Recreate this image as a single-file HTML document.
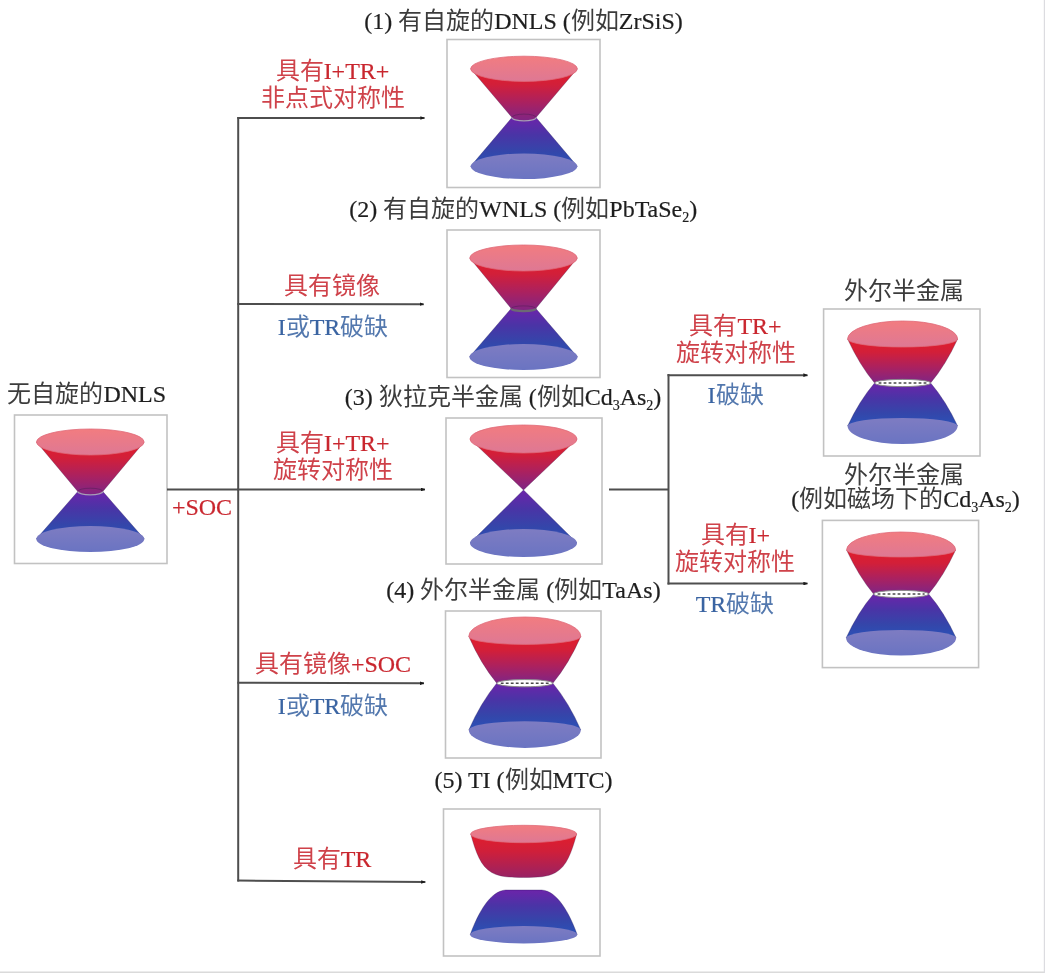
<!DOCTYPE html>
<html lang="zh-CN">
<head>
<meta charset="utf-8">
<title>Nodal line semimetals diagram</title>
<style>
html,body{margin:0;padding:0;background:#fff;}
body{width:1045px;height:973px;overflow:hidden;font-family:"Liberation Serif",serif;}
svg{display:block;filter:blur(0.4px);}
</style>
</head>
<body>
<svg width="1045" height="973" viewBox="0 0 1045 973" font-family="Liberation Serif, serif" font-size="24">
<defs>
 <linearGradient id="gLid" x1="0" y1="0" x2="0" y2="1">
  <stop offset="0" stop-color="#f27c80"/>
  <stop offset="1" stop-color="#de7894"/>
 </linearGradient>
 <linearGradient id="gTop" x1="0" y1="0" x2="0" y2="1">
  <stop offset="0" stop-color="#e21d2b"/>
  <stop offset="0.3" stop-color="#d21f39"/>
  <stop offset="0.65" stop-color="#aa2160"/>
  <stop offset="1" stop-color="#7f2585"/>
 </linearGradient>
 <linearGradient id="gTopTI" x1="0" y1="0" x2="0" y2="1">
  <stop offset="0" stop-color="#e21d2b"/>
  <stop offset="0.4" stop-color="#cf1f3a"/>
  <stop offset="1" stop-color="#982264"/>
 </linearGradient>
 <linearGradient id="gBot" x1="0" y1="0" x2="0" y2="1">
  <stop offset="0" stop-color="#6c24aa"/>
  <stop offset="0.35" stop-color="#4a34a6"/>
  <stop offset="0.7" stop-color="#3446aa"/>
  <stop offset="1" stop-color="#2a52b8"/>
 </linearGradient>
 <linearGradient id="gBase" x1="0" y1="0" x2="0" y2="1">
  <stop offset="0" stop-color="#7e7cc2"/>
  <stop offset="1" stop-color="#6a74c2"/>
 </linearGradient>
 <marker id="ah" viewBox="0 0 10 8" refX="9" refY="4" markerWidth="2.3" markerHeight="1.84" markerUnits="strokeWidth" orient="auto">
  <path d="M0,0 L10,4 L0,8 z" fill="#1a1a1a"/>
 </marker>
</defs>
<rect x="14.5" y="415" width="152.5" height="148.5" fill="#fff" stroke="#c2c2c2" stroke-width="1.6"/>
<path d="M77.8,491.5 L36.3,539 L144.3,539 L102.8,491.5 Z" fill="url(#gBot)" stroke="#1a1050" stroke-opacity="0.35" stroke-width="0.9"/>
<path d="M36.5,442 L77.8,491.5 A12.5,3.3 0 0 0 102.8,491.5 L144.1,442 Z" fill="url(#gTop)" stroke="#3a0f40" stroke-opacity="0.35" stroke-width="0.9"/>
<ellipse cx="90.3" cy="442" rx="53.8" ry="13" fill="url(#gLid)" stroke="#e06a78" stroke-width="0.8"/>
<ellipse cx="90.3" cy="539" rx="54" ry="13" fill="url(#gBase)"/>
<path d="M77.8,491.5 A12.5,3.3 0 0 1 102.8,491.5" fill="none" stroke="#4a1c50" stroke-opacity="0.45" stroke-width="1"/>
<path d="M77.8,491.5 A12.5,3.3 0 0 0 102.8,491.5" fill="none" stroke="#a89fb8" stroke-width="1.3"/>
<rect x="447" y="39.5" width="153" height="148.0" fill="#fff" stroke="#c2c2c2" stroke-width="1.6"/>
<path d="M512.0,117.5 L470.7,166.3 L577.3,166.3 L536.0,117.5 Z" fill="url(#gBot)" stroke="#1a1050" stroke-opacity="0.35" stroke-width="0.9"/>
<path d="M470.7,68.8 L512.0,117.5 A12.0,3.4 0 0 0 536.0,117.5 L577.3,68.8 Z" fill="url(#gTop)" stroke="#3a0f40" stroke-opacity="0.35" stroke-width="0.9"/>
<ellipse cx="524" cy="68.8" rx="53.3" ry="12.6" fill="url(#gLid)" stroke="#e06a78" stroke-width="0.8"/>
<ellipse cx="524" cy="166.3" rx="53.3" ry="12.8" fill="url(#gBase)"/>
<path d="M512.0,117.5 A12.0,3.4 0 0 1 536.0,117.5" fill="none" stroke="#4a1c50" stroke-opacity="0.45" stroke-width="1"/>
<path d="M512.0,117.5 A12.0,3.4 0 0 0 536.0,117.5" fill="none" stroke="#a89fb8" stroke-width="1.3"/>
<rect x="447" y="230" width="153" height="147.5" fill="#fff" stroke="#c2c2c2" stroke-width="1.6"/>
<path d="M511.2,308.5 L469.5,357 L577.5,357 L535.8,308.5 Z" fill="url(#gBot)" stroke="#1a1050" stroke-opacity="0.35" stroke-width="0.9"/>
<path d="M469.8,258 L511.2,308.5 A12.3,2.6 0 0 0 535.8,308.5 L577.2,258 Z" fill="url(#gTop)" stroke="#3a0f40" stroke-opacity="0.35" stroke-width="0.9"/>
<ellipse cx="523.5" cy="258" rx="53.7" ry="13" fill="url(#gLid)" stroke="#e06a78" stroke-width="0.8"/>
<ellipse cx="523.5" cy="357" rx="54" ry="13" fill="url(#gBase)"/>
<path d="M511.2,308.5 A12.3,2.6 0 0 1 535.8,308.5" fill="none" stroke="#4a1c50" stroke-opacity="0.45" stroke-width="1"/>
<path d="M511.2,308.5 A12.3,2.6 0 0 0 535.8,308.5" fill="none" stroke="#6c6a74" stroke-width="2.3"/>
<rect x="446" y="418" width="156" height="146" fill="#fff" stroke="#c2c2c2" stroke-width="1.6"/>
<path d="M470.0,439 L523.5,490 L577.0,439 Z" fill="url(#gTop)" stroke="#3a0f40" stroke-opacity="0.35" stroke-width="0.9"/>
<path d="M523.5,490 L470.0,543 L577.0,543 Z" fill="url(#gBot)" stroke="#1a1050" stroke-opacity="0.35" stroke-width="0.9"/>
<ellipse cx="523.5" cy="439" rx="53.5" ry="14" fill="url(#gLid)" stroke="#e06a78" stroke-width="0.8"/>
<ellipse cx="523.5" cy="543" rx="53.5" ry="14" fill="url(#gBase)"/>
<rect x="445.5" y="611" width="155.5" height="147" fill="#fff" stroke="#c2c2c2" stroke-width="1.6"/>
<path d="M468.79999999999995,636.4 Q480.79999999999995,663.8 496.79999999999995,683.2 L552.8,683.2 Q568.8,663.8 580.8,636.4 Z" fill="url(#gTop)" stroke="#3a0f40" stroke-opacity="0.35" stroke-width="0.9"/>
<path d="M496.79999999999995,683.2 Q480.79999999999995,702.6 468.79999999999995,730 L580.8,730 Q568.8,702.6 552.8,683.2 Z" fill="url(#gBot)" stroke="#1a1050" stroke-opacity="0.35" stroke-width="0.9"/>
<path d="M468.79999999999995,636.4 A56,19.399999999999977 0 0 1 580.8,636.4 A56,8.0 0 0 1 468.79999999999995,636.4 Z" fill="url(#gLid)" stroke="#e06a78" stroke-width="0.8"/>
<path d="M468.79999999999995,730 A56,8.700000000000045 0 0 1 580.8,730 A56,17.899999999999977 0 0 1 468.79999999999995,730 Z" fill="url(#gBase)"/>
<ellipse cx="524.8" cy="683.2" rx="28" ry="3.6" fill="#fff" stroke="#8a8a8a" stroke-width="1"/>
<line x1="500.79999999999995" y1="683.2" x2="548.8" y2="683.2" stroke="#4a4a4a" stroke-width="1.6" stroke-dasharray="2.8 2.2"/>
<rect x="443.5" y="809" width="156.5" height="147" fill="#fff" stroke="#c2c2c2" stroke-width="1.6"/>
<path d="M470.70000000000005,834 C475.70000000000005,852 480.70000000000005,866.5 491.70000000000005,872.5 C499.70000000000005,877.0 509.70000000000005,877.5 523.7,877.5 C537.7,877.5 547.7,877.0 555.7,872.5 C566.7,866.5 571.7,852 576.7,834 Z" fill="url(#gTopTI)" stroke="#3a0f40" stroke-opacity="0.3" stroke-width="0.9"/>
<ellipse cx="523.7" cy="834" rx="53" ry="8.7" fill="url(#gLid)" stroke="#e06a78" stroke-width="0.8"/>
<path d="M470.20000000000005,934.7 C478.20000000000005,912.7 490.20000000000005,891 505.70000000000005,890 L541.7,890 C557.2,891 569.2,912.7 577.2,934.7 Z" fill="url(#gBot)" stroke="#1a1050" stroke-opacity="0.35" stroke-width="0.9"/>
<ellipse cx="523.7" cy="934.7" rx="53.5" ry="8.7" fill="url(#gBase)"/>
<rect x="823.6" y="309" width="156.39999999999998" height="147" fill="#fff" stroke="#c2c2c2" stroke-width="1.6"/>
<path d="M847.6,339 Q859.6,365.0 874.6,383 L930.6,383 Q945.6,365.0 957.6,339 Z" fill="url(#gTop)" stroke="#3a0f40" stroke-opacity="0.35" stroke-width="0.9"/>
<path d="M874.6,383 Q859.6,400.5 847.6,426 L957.6,426 Q945.6,400.5 930.6,383 Z" fill="url(#gBot)" stroke="#1a1050" stroke-opacity="0.35" stroke-width="0.9"/>
<path d="M847.6,339 A55,18 0 0 1 957.6,339 A55,8 0 0 1 847.6,339 Z" fill="url(#gLid)" stroke="#e06a78" stroke-width="0.8"/>
<path d="M847.6,426 A55,8 0 0 1 957.6,426 A55,18 0 0 1 847.6,426 Z" fill="url(#gBase)"/>
<ellipse cx="902.6" cy="383" rx="28" ry="3.6" fill="#fff" stroke="#8a8a8a" stroke-width="1"/>
<line x1="878.6" y1="383" x2="926.6" y2="383" stroke="#4a4a4a" stroke-width="1.6" stroke-dasharray="2.8 2.2"/>
<rect x="822.4" y="520.4" width="156.20000000000005" height="147.20000000000005" fill="#fff" stroke="#c2c2c2" stroke-width="1.6"/>
<path d="M846.6,550 Q858.6,576.0 873.6,594 L928.6,594 Q943.6,576.0 955.6,550 Z" fill="url(#gTop)" stroke="#3a0f40" stroke-opacity="0.35" stroke-width="0.9"/>
<path d="M873.6,594 Q858.1,612.0 846.1,638 L956.1,638 Q944.1,612.0 928.6,594 Z" fill="url(#gBot)" stroke="#1a1050" stroke-opacity="0.35" stroke-width="0.9"/>
<path d="M846.6,550 A54.5,18 0 0 1 955.6,550 A54.5,7 0 0 1 846.6,550 Z" fill="url(#gLid)" stroke="#e06a78" stroke-width="0.8"/>
<path d="M846.1,638 A55,8 0 0 1 956.1,638 A55,17.600000000000023 0 0 1 846.1,638 Z" fill="url(#gBase)"/>
<ellipse cx="901.1" cy="594" rx="27.5" ry="3.6" fill="#fff" stroke="#8a8a8a" stroke-width="1"/>
<line x1="877.6" y1="594" x2="924.6" y2="594" stroke="#4a4a4a" stroke-width="1.6" stroke-dasharray="2.8 2.2"/>
<line x1="238.2" y1="117" x2="238.2" y2="881.6" stroke="#4e4e4e" stroke-width="2" fill="none"/>
<line x1="167" y1="489.5" x2="238.3" y2="489.5" stroke="#4e4e4e" stroke-width="2" fill="none"/>
<line x1="237.3" y1="118" x2="424.5" y2="118" stroke="#4e4e4e" stroke-width="2" fill="none" marker-end="url(#ah)"/>
<line x1="237.3" y1="304.1" x2="423.7" y2="304.2" stroke="#4e4e4e" stroke-width="2" fill="none" marker-end="url(#ah)"/>
<line x1="237.3" y1="489.5" x2="425" y2="489.5" stroke="#4e4e4e" stroke-width="2" fill="none" marker-end="url(#ah)"/>
<line x1="237.3" y1="682.7" x2="424" y2="683.3" stroke="#4e4e4e" stroke-width="2" fill="none" marker-end="url(#ah)"/>
<line x1="237.3" y1="880.6" x2="425.3" y2="882" stroke="#4e4e4e" stroke-width="2" fill="none" marker-end="url(#ah)"/>
<line x1="609" y1="489.5" x2="669" y2="489.5" stroke="#4e4e4e" stroke-width="2" fill="none"/>
<line x1="668.5" y1="374" x2="668.5" y2="584.5" stroke="#4e4e4e" stroke-width="2" fill="none"/>
<line x1="667.5" y1="375.2" x2="807.5" y2="375.2" stroke="#4e4e4e" stroke-width="2" fill="none" marker-end="url(#ah)"/>
<line x1="667.5" y1="583.6" x2="807.5" y2="583.6" stroke="#4e4e4e" stroke-width="2" fill="none" marker-end="url(#ah)"/>
<rect x="0" y="971.5" width="1045" height="1.5" fill="#dadada"/>
<rect x="1043.8" y="0" width="1.2" height="973" fill="#dcdce0"/>
<text x="523.5" y="29" fill="#1e1e1e" stroke="#1e1e1e" stroke-width="0.2" text-anchor="middle">(1) <tspan fill="#3c3c3c" stroke="none">有自旋的</tspan>DNLS (<tspan fill="#3c3c3c" stroke="none">例如</tspan>ZrSiS)</text>
<text x="332.5" y="79" fill="#c9262e" stroke="#c9262e" stroke-width="0.2" text-anchor="middle"><tspan fill="#cf424a" stroke="none">具有</tspan>I+TR+</text>
<text x="332.5" y="106" fill="#c9262e" stroke="#c9262e" stroke-width="0.2" text-anchor="middle"><tspan fill="#cf424a" stroke="none">非点式对称性</tspan></text>
<text x="523.3" y="217" fill="#1e1e1e" stroke="#1e1e1e" stroke-width="0.2" text-anchor="middle">(2) <tspan fill="#3c3c3c" stroke="none">有自旋的</tspan>WNLS (<tspan fill="#3c3c3c" stroke="none">例如</tspan>PbTaSe<tspan font-size="14" dy="5">2</tspan><tspan dy="-5">)</tspan></text>
<text x="332" y="294" fill="#c9262e" stroke="#c9262e" stroke-width="0.2" text-anchor="middle"><tspan fill="#cf424a" stroke="none">具有镜像</tspan></text>
<text x="333" y="334.5" fill="#3a64a2" stroke="#3a64a2" stroke-width="0.2" text-anchor="middle">I<tspan fill="#5378ae" stroke="none">或</tspan>TR<tspan fill="#5378ae" stroke="none">破缺</tspan></text>
<text x="86.8" y="402" fill="#1e1e1e" stroke="#1e1e1e" stroke-width="0.2" text-anchor="middle"><tspan fill="#3c3c3c" stroke="none">无自旋的</tspan>DNLS</text>
<text x="503" y="405" fill="#1e1e1e" stroke="#1e1e1e" stroke-width="0.2" text-anchor="middle">(3) <tspan fill="#3c3c3c" stroke="none">狄拉克半金属</tspan> (<tspan fill="#3c3c3c" stroke="none">例如</tspan>Cd<tspan font-size="14" dy="5">3</tspan><tspan dy="-5">As</tspan><tspan font-size="14" dy="5">2</tspan><tspan dy="-5">)</tspan></text>
<text x="332.8" y="451" fill="#c9262e" stroke="#c9262e" stroke-width="0.2" text-anchor="middle"><tspan fill="#cf424a" stroke="none">具有</tspan>I+TR+</text>
<text x="333" y="478" fill="#c9262e" stroke="#c9262e" stroke-width="0.2" text-anchor="middle"><tspan fill="#cf424a" stroke="none">旋转对称性</tspan></text>
<text x="202" y="514.5" fill="#c9262e" stroke="#c9262e" stroke-width="0.2" text-anchor="middle">+SOC</text>
<text x="735.5" y="334" fill="#c9262e" stroke="#c9262e" stroke-width="0.2" text-anchor="middle"><tspan fill="#cf424a" stroke="none">具有</tspan>TR+</text>
<text x="735.5" y="361" fill="#c9262e" stroke="#c9262e" stroke-width="0.2" text-anchor="middle"><tspan fill="#cf424a" stroke="none">旋转对称性</tspan></text>
<text x="735.5" y="403" fill="#3a64a2" stroke="#3a64a2" stroke-width="0.2" text-anchor="middle">I<tspan fill="#5378ae" stroke="none">破缺</tspan></text>
<text x="904" y="299" fill="#1e1e1e" stroke="#1e1e1e" stroke-width="0.2" text-anchor="middle"><tspan fill="#3c3c3c" stroke="none">外尔半金属</tspan></text>
<text x="903.6" y="483" fill="#1e1e1e" stroke="#1e1e1e" stroke-width="0.2" text-anchor="middle"><tspan fill="#3c3c3c" stroke="none">外尔半金属</tspan></text>
<text x="905.5" y="506.5" fill="#1e1e1e" stroke="#1e1e1e" stroke-width="0.2" text-anchor="middle">(<tspan fill="#3c3c3c" stroke="none">例如磁场下的</tspan>Cd<tspan font-size="14" dy="5">3</tspan><tspan dy="-5">As</tspan><tspan font-size="14" dy="5">2</tspan><tspan dy="-5">)</tspan></text>
<text x="735.3" y="543" fill="#c9262e" stroke="#c9262e" stroke-width="0.2" text-anchor="middle"><tspan fill="#cf424a" stroke="none">具有</tspan>I+</text>
<text x="735.3" y="570" fill="#c9262e" stroke="#c9262e" stroke-width="0.2" text-anchor="middle"><tspan fill="#cf424a" stroke="none">旋转对称性</tspan></text>
<text x="735" y="612" fill="#3a64a2" stroke="#3a64a2" stroke-width="0.2" text-anchor="middle">TR<tspan fill="#5378ae" stroke="none">破缺</tspan></text>
<text x="523.5" y="598" fill="#1e1e1e" stroke="#1e1e1e" stroke-width="0.2" text-anchor="middle">(4) <tspan fill="#3c3c3c" stroke="none">外尔半金属</tspan> (<tspan fill="#3c3c3c" stroke="none">例如</tspan>TaAs)</text>
<text x="333" y="672" fill="#c9262e" stroke="#c9262e" stroke-width="0.2" text-anchor="middle"><tspan fill="#cf424a" stroke="none">具有镜像</tspan>+SOC</text>
<text x="333" y="714" fill="#3a64a2" stroke="#3a64a2" stroke-width="0.2" text-anchor="middle">I<tspan fill="#5378ae" stroke="none">或</tspan>TR<tspan fill="#5378ae" stroke="none">破缺</tspan></text>
<text x="523.5" y="788" fill="#1e1e1e" stroke="#1e1e1e" stroke-width="0.2" text-anchor="middle">(5) TI (<tspan fill="#3c3c3c" stroke="none">例如</tspan>MTC)</text>
<text x="332" y="867" fill="#c9262e" stroke="#c9262e" stroke-width="0.2" text-anchor="middle"><tspan fill="#cf424a" stroke="none">具有</tspan>TR</text></svg>
</body>
</html>
